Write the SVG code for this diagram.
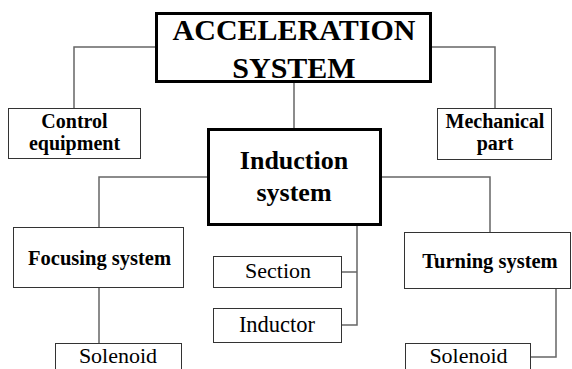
<svg xmlns="http://www.w3.org/2000/svg" width="572" height="369" viewBox="0 0 572 369">
<style>
.thick{fill:#fff;stroke:#000;stroke-width:3}
.thin{fill:#fff;stroke:#333;stroke-width:1}
.conn{fill:none;stroke:#666;stroke-width:1.5}
text{font-family:"Liberation Serif","Times New Roman",serif;fill:#000;text-anchor:middle}
.b{font-weight:bold}
</style>
<rect width="572" height="369" fill="#fff"/>
<g id="connectors">
<path class="conn" d="M155 47H74V108"/>
<path class="conn" d="M432 47H495V108"/>
<path class="conn" d="M294 83V128"/>
<path class="conn" d="M207 177H99V227"/>
<path class="conn" d="M382 177H490V232"/>
<path class="conn" d="M357 226V325H342M357 272H342"/>
<path class="conn" d="M99 288V355H55"/>
<path class="conn" d="M556 289V357H531"/>
</g>
<g id="acceleration">
<rect class="thick" x="156.5" y="13.5" width="274" height="68"/>
<text class="b" x="294" y="40" font-size="30">ACCELERATION</text>
<text class="b" x="294" y="78" font-size="30">SYSTEM</text>
</g>
<g id="control">
<rect class="thin" x="8.5" y="108.5" width="132" height="50"/>
<text class="b" x="74.5" y="128" font-size="20">Control</text>
<text class="b" x="74.5" y="150" font-size="20">equipment</text>
</g>
<g id="mechanical">
<rect class="thin" x="437.5" y="108.5" width="114" height="51"/>
<text class="b" x="495" y="128" font-size="20">Mechanical</text>
<text class="b" x="495" y="150" font-size="20">part</text>
</g>
<g id="induction">
<rect class="thick" x="208.5" y="129.5" width="172" height="95"/>
<text class="b" x="294" y="169" font-size="26">Induction</text>
<text class="b" x="294" y="201" font-size="26">system</text>
</g>
<g id="focusing">
<rect class="thin" x="13.5" y="227.5" width="170" height="60"/>
<text class="b" x="99.5" y="265" font-size="20.5">Focusing system</text>
</g>
<g id="turning">
<rect class="thin" x="404.5" y="232.5" width="166" height="56"/>
<text class="b" x="490" y="268" font-size="20.5">Turning system</text>
</g>
<g id="section">
<rect class="thin" x="213.5" y="256.5" width="128" height="31"/>
<text x="278" y="278" font-size="22">Section</text>
</g>
<g id="inductor">
<rect class="thin" x="213.5" y="308.5" width="128" height="34"/>
<text x="277" y="332" font-size="22.5">Inductor</text>
</g>
<g id="solenoid-left">
<rect class="thin" x="55.5" y="343.5" width="126" height="40"/>
<text x="118" y="363" font-size="22">Solenoid</text>
</g>
<g id="solenoid-right">
<rect class="thin" x="405.5" y="343.5" width="125" height="40"/>
<text x="468.5" y="363" font-size="22">Solenoid</text>
</g>
</svg>
